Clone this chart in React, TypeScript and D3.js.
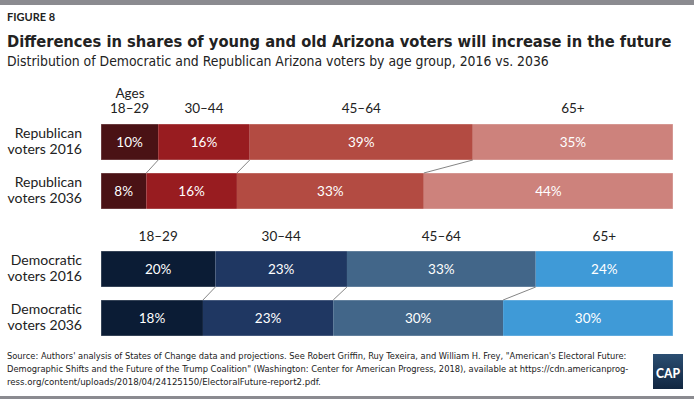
import React, { useLayoutEffect, useRef, useState } from "react";
import * as d3 from "d3";

const ages = ["18–29", "30–44", "45–64", "65+"];
const rep2016 = [10, 16, 39, 35];
const rep2036 = [8, 16, 33, 44];
const dem2016 = [20, 23, 33, 24];
const dem2036 = [18, 23, 30, 30];
const repColors = ["#4a1215", "#981c20", "#b34b42", "#cd827c"];
const demColors = ["#0b1c35", "#1f3762", "#426689", "#3f9ad7"];

const W = 694;
const H = 399;
const barLeft = 101;
const barRight = 673;
const barH = 36;
const font = "Lato, 'Open Sans', sans-serif";
const narrow = "'Liberation Sans Narrow', 'DejaVu Sans Condensed', Lato, sans-serif";

// cumulative segments for one row, scaled to the row's total
function segments(values: number[]) {
  const total = d3.sum(values);
  const x = d3.scaleLinear().domain([0, total]).range([barLeft, barRight]);
  let acc = 0;
  return values.map((v) => {
    const s = { v, x0: x(acc), x1: x(acc + v) };
    acc += v;
    return s;
  });
}

// text whose font size is adjusted so that it spans the given width
function FitText({ x, y, width, size, children, ...rest }: any) {
  const ref = useRef<SVGTextElement>(null);
  const [fs, setFs] = useState(size);
  useLayoutEffect(() => {
    if (!ref.current) return;
    const len = ref.current.getComputedTextLength();
    if (len > 0) setFs(Math.min(size * 1.25, (size * width) / len));
  }, []);
  return (
    <text ref={ref} x={x} y={y} fontSize={fs} {...rest}>
      {children}
    </text>
  );
}

function Bar({ values, y, colors, label }: any) {
  const segs = segments(values);
  return (
    <g>
      {segs.map((s, i) => (
        <g key={i}>
          <rect x={s.x0} y={y} width={s.x1 - s.x0} height={barH} fill={colors[i]} />
          <text x={(s.x0 + s.x1) / 2} y={y + barH / 2 + 5} textAnchor="middle" fill="#fff" fontSize={13.5}>
            {s.v}%
          </text>
        </g>
      ))}
      <rect x={barLeft} y={y} width={barRight - barLeft} height={barH} fill="none" stroke="#fff" strokeOpacity={0.35} strokeWidth={1} />
      <text x={82} y={y + 14} textAnchor="end" fill="#222" fontSize={14}>
        {label[0]}
      </text>
      <text x={82} y={y + 30} textAnchor="end" fill="#222" fontSize={14}>
        {label[1]}
      </text>
    </g>
  );
}

function Connectors({ top, bottom, yTop, yBottom }: any) {
  const a = segments(top);
  const b = segments(bottom);
  return (
    <g>
      {a.slice(0, -1).map((s, i) => (
        <line key={i} x1={s.x1} y1={yTop + barH} x2={b[i].x1} y2={yBottom} stroke="#666" strokeWidth={0.8} />
      ))}
    </g>
  );
}

function AgeLabels({ values, y }: any) {
  const segs = segments(values);
  return (
    <g>
      {segs.map((s, i) => (
        <text key={i} x={(s.x0 + s.x1) / 2} y={y} textAnchor="middle" fill="#222" fontSize={13.5}>
          {ages[i]}
        </text>
      ))}
    </g>
  );
}

export default function App() {
  const yR1 = 124;
  const yR2 = 173;
  const yD1 = 251;
  const yD2 = 300;
  return (
    <svg width={W} height={H} style={{ display: "block", position: "absolute", left: 0, top: 0 }} fontFamily={font}>
      <defs>
        <linearGradient id="capGrad" x1="0" y1="0" x2="0" y2="1">
          <stop offset="0" stopColor="#2b4e72" />
          <stop offset="1" stopColor="#112640" />
        </linearGradient>
      </defs>
      <rect x={0} y={0} width={W} height={H} fill="#fff" />
      <rect x={0} y={0} width={W} height={5} fill="#8b8b90" />
      <rect x={0} y={396} width={W} height={3} fill="#8b8b90" />

      <text x={7} y={21} fontSize={11} fontWeight={700} fill="#222">FIGURE 8</text>
      <FitText x={7} y={47} width={665} size={21} fontFamily={narrow} fontWeight={700} fill="#222">
        Differences in shares of young and old Arizona voters will increase in the future
      </FitText>
      <FitText x={7} y={66} width={542} size={15} fontFamily={narrow} fill="#222">
        Distribution of Democratic and Republican Arizona voters by age group, 2016 vs. 2036
      </FitText>

      <text x={130} y={98} textAnchor="middle" fontSize={13.5} fill="#222">Ages</text>
      <AgeLabels values={rep2016} y={113} />
      <Bar values={rep2016} y={yR1} colors={repColors} label={["Republican", "voters 2016"]} />
      <Bar values={rep2036} y={yR2} colors={repColors} label={["Republican", "voters 2036"]} />
      <Connectors top={rep2016} bottom={rep2036} yTop={yR1} yBottom={yR2} />

      <AgeLabels values={dem2016} y={241} />
      <Bar values={dem2016} y={yD1} colors={demColors} label={["Democratic", "voters 2016"]} />
      <Bar values={dem2036} y={yD2} colors={demColors} label={["Democratic", "voters 2036"]} />
      <Connectors top={dem2016} bottom={dem2036} yTop={yD1} yBottom={yD2} />

      <g fill="#222" fontFamily={narrow}>
        <FitText x={7} y={359} width={620} size={10.5}>
          Source: Authors' analysis of States of Change data and projections. See Robert Griffin, Ruy Texeira, and William H. Frey, "American's Electoral Future:
        </FitText>
        <FitText x={7} y={372} width={622} size={10.5}>
          Demographic Shifts and the Future of the Trump Coalition" (Washington: Center for American Progress, 2018), available at https://cdn.americanprog-
        </FitText>
        <FitText x={7} y={385} width={314} size={10.5}>
          ress.org/content/uploads/2018/04/24125150/ElectoralFuture-report2.pdf.
        </FitText>
      </g>

      <rect x={653} y={354} width={30} height={35} fill="url(#capGrad)" />
      <text x={668} y={378} textAnchor="middle" fill="#fff" fontSize={14} fontWeight={900} textLength={24} lengthAdjust="spacingAndGlyphs">
        CAP
      </text>
    </svg>
  );
}
